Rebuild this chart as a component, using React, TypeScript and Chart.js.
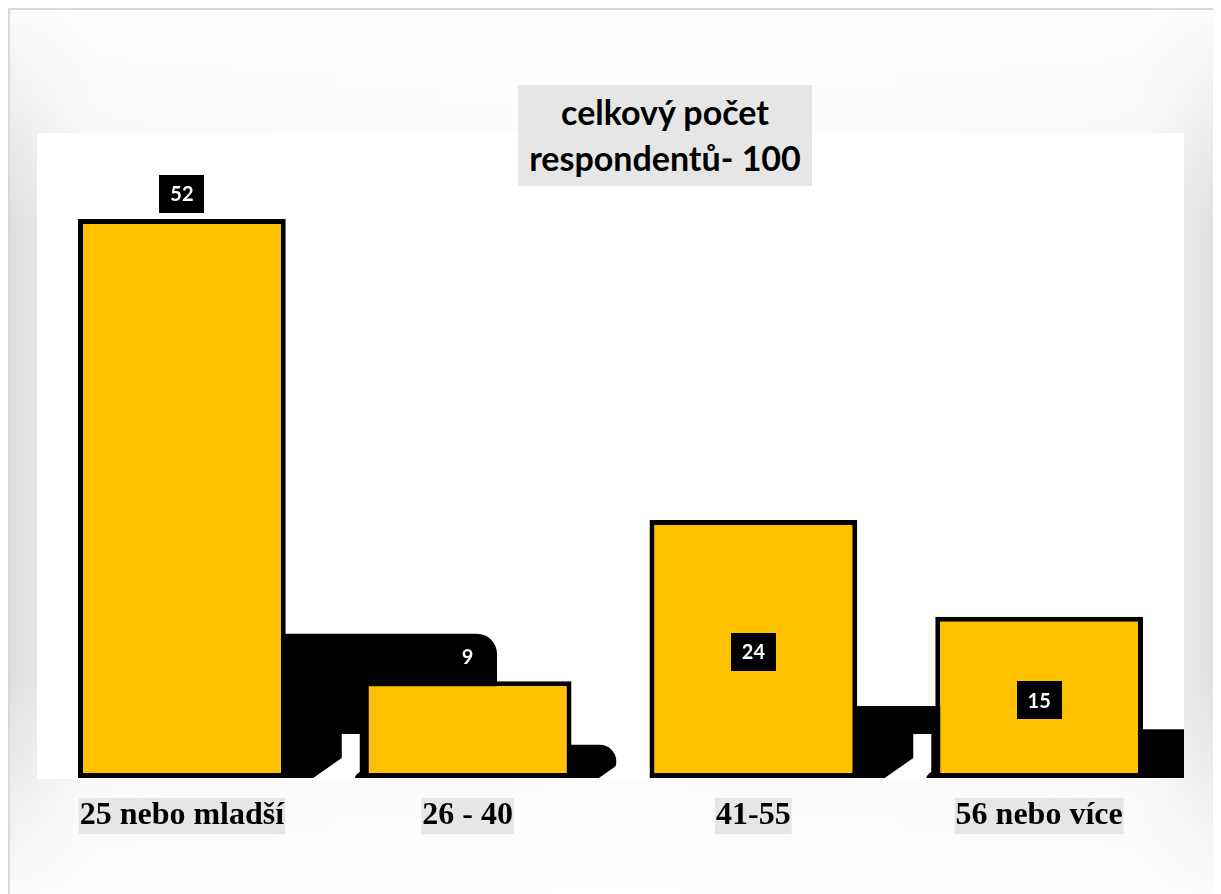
import React, { useEffect, useRef } from "react";
import { Chart, registerables } from "chart.js";

Chart.register(...registerables);

// Respondents by age group
const categories = ["25 nebo mladší", "26 - 40", "41-55", "56 nebo více"];
const respondents = [52, 9, 24, 15];
const titleLines = ["celkový počet", "respondentů- 100"];

// where each value box sits relative to its bar
const labelAnchors = ["end", "end", "center", "center"];

const YELLOW = "#FFC000";
const LABEL_GRAY = "#e6e6e6";

const plotRect = (chartArea: any) => ({
  x: chartArea.left - 2,
  y: chartArea.top,
  w: chartArea.right - chartArea.left + 4,
  h: chartArea.bottom - chartArea.top + 1,
});

// White plotting surface behind the bars
const plotBackground = {
  id: "plotBackground",
  beforeDraw(chart: any) {
    const { ctx, chartArea } = chart;
    const r = plotRect(chartArea);
    ctx.save();
    ctx.fillStyle = "#ffffff";
    ctx.fillRect(r.x, r.y, r.w, r.h);
    ctx.restore();
  },
};

// Heavy black drop shadows trailing to the right of each bar
const barShadows = {
  id: "barShadows",
  beforeDatasetsDraw(chart: any) {
    const { ctx, chartArea } = chart;
    const meta = chart.getDatasetMeta(0);
    const pr = plotRect(chartArea);
    ctx.save();
    ctx.beginPath();
    ctx.rect(pr.x, pr.y, pr.w, pr.h);
    ctx.clip();
    ctx.fillStyle = "#000000";
    meta.data.forEach((el: any) => {
      const { x, y, base, width } = el.getProps(["x", "y", "base", "width"], true);
      const h = base - y;
      const x0 = x + width / 2 - 3;
      const x1 = x + width / 2 + 0.36 * h + 10;
      const y0 = base - (0.24 * h + 10);
      const r = Math.min(20, (base - y0) / 2, (x1 - x0) / 2);
      ctx.beginPath();
      ctx.moveTo(x0, y0);
      ctx.lineTo(x1 - r, y0);
      ctx.arcTo(x1, y0, x1, y0 + r, r);
      ctx.lineTo(x1, base - r);
      ctx.arcTo(x1, base, x1 - r, base, r);
      ctx.lineTo(x0, base);
      ctx.closePath();
      ctx.fill();
    });
    // light gaps where a shadow meets the foot of the next bar
    ctx.fillStyle = "#ffffff";
    meta.data.forEach((el: any, i: number) => {
      if (i === 0) return;
      const { x, base, width } = el.getProps(["x", "base", "width"], true);
      const left = x - width / 2;
      ctx.beginPath();
      ctx.moveTo(left - 22, base - 44);
      ctx.lineTo(left - 4, base - 44);
      ctx.lineTo(left - 4, base - 6);
      ctx.quadraticCurveTo(left - 9, base - 3, left - 9, base + 1);
      ctx.lineTo(left - 52, base + 1);
      ctx.lineTo(left - 22, base - 20);
      ctx.closePath();
      ctx.fill();
    });
    ctx.restore();
  },
};

// Black value boxes with white numbers
const valueBoxes = {
  id: "valueBoxes",
  afterDatasetsDraw(chart: any) {
    const { ctx } = chart;
    const meta = chart.getDatasetMeta(0);
    const values = chart.data.datasets[0].data;
    ctx.save();
    ctx.font = "bold 20px Lato, 'Open Sans', sans-serif";
    ctx.textAlign = "center";
    ctx.textBaseline = "middle";
    meta.data.forEach((el: any, i: number) => {
      const { x, y, base } = el.getProps(["x", "y", "base"], true);
      const text = String(values[i]);
      const tw = ctx.measureText(text).width;
      const bw = tw + 22;
      const bh = 38;
      const cy = labelAnchors[i] === "end" ? y - 6 - bh / 2 : (y + base) / 2 + 3;
      ctx.fillStyle = "#000000";
      ctx.fillRect(Math.round(x - bw / 2), Math.round(cy - bh / 2), Math.round(bw), bh);
      ctx.fillStyle = "#ffffff";
      ctx.fillText(text, x, cy + 1);
    });
    ctx.restore();
  },
};

export default function App() {
  const canvasRef = useRef<HTMLCanvasElement | null>(null);

  useEffect(() => {
    document.documentElement.style.overflow = "hidden";
    document.body.style.overflow = "hidden";
    const canvas = canvasRef.current;
    if (!canvas) return;
    const chart = new Chart(canvas, {
      type: "bar",
      data: {
        labels: categories,
        datasets: [
          {
            data: respondents,
            backgroundColor: YELLOW,
            borderColor: "#000000",
            borderWidth: 5,
            borderSkipped: false,
            categoryPercentage: 1,
            barPercentage: 0.727,
          },
        ],
      },
      options: {
        responsive: true,
        maintainAspectRatio: false,
        animation: false,
        layout: { padding: { left: 29, right: 39, top: 123, bottom: 0 } },
        plugins: {
          legend: { display: false },
          tooltip: { enabled: false },
          title: { display: false },
        },
        scales: {
          x: {
            grid: { display: false, drawTicks: false },
            border: { display: false },
            afterFit(scale: any) {
              scale.height = 116;
            },
            ticks: {
              color: "#000000",
              padding: 20,
              font: { family: "'Liberation Serif', 'Times New Roman', serif", size: 32, weight: "bold", lineHeight: 1.125 },
              showLabelBackdrop: true,
              backdropColor: LABEL_GRAY,
              backdropPadding: { top: 0, bottom: 0, left: 1, right: 1 },
              maxRotation: 0,
              autoSkip: false,
            },
          },
          y: {
            display: false,
            min: 0,
            max: 60,
          },
        },
      },
      plugins: [plotBackground, barShadows, valueBoxes],
    });
    return () => chart.destroy();
  }, []);

  return (
    <div
      style={{
        position: "relative",
        width: 1213,
        height: 886,
        boxSizing: "border-box",
        borderTop: "2px solid #d9d9d9",
        borderLeft: "2px solid #d9d9d9",
        background:
          "linear-gradient(to bottom, rgba(255,255,255,0.9) 0%, rgba(255,255,255,0) 25%, rgba(255,255,255,0) 75%, rgba(255,255,255,0.9) 100%), linear-gradient(to right, #dedede 0%, #f6f6f6 7%, #fbfbfb 50%, #f6f6f6 93%, #dedede 100%)",
      }}
    >
      <div style={{ position: "absolute", left: 0, top: 0, width: 1211, height: 884 }}>
        <canvas ref={canvasRef} />
      </div>
      <div
        style={{
          position: "absolute",
          left: 508,
          top: 75,
          width: 294,
          height: 101,
          background: LABEL_GRAY,
          fontFamily: "Lato, 'Open Sans', sans-serif",
          fontWeight: 700,
          fontSize: 34,
          lineHeight: "46px",
          textAlign: "center",
          color: "#000000",
          paddingTop: 4,
          boxSizing: "border-box",
          whiteSpace: "nowrap",
        }}
      >
        {titleLines.map((t) => (
          <div key={t}>{t}</div>
        ))}
      </div>
    </div>
  );
}
